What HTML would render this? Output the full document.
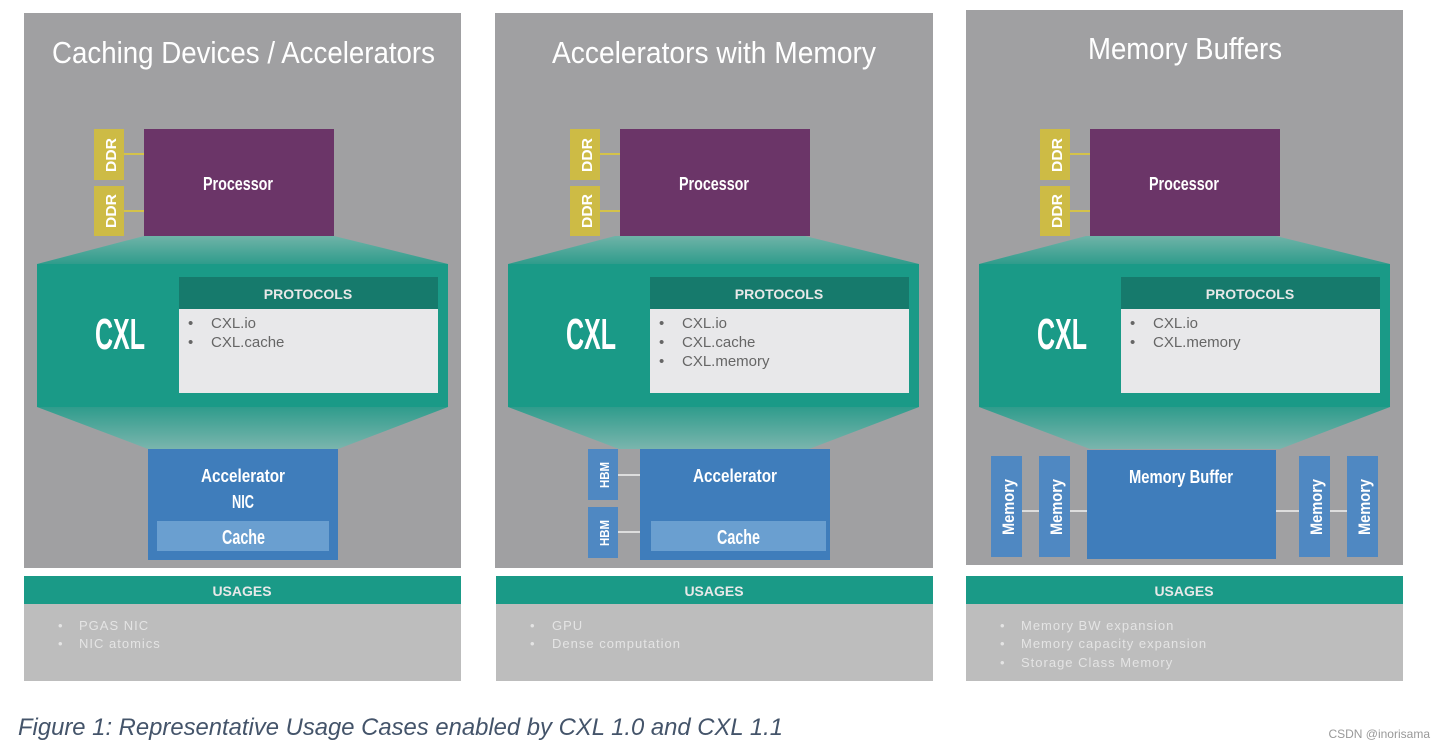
<!DOCTYPE html>
<html><head><meta charset="utf-8"><style>
html,body{margin:0;padding:0;background:#fff;width:1444px;height:750px;overflow:hidden}
svg{display:block}
.t{font-family:"Liberation Sans",sans-serif;fill:#fff}
.s{font-family:"Liberation Sans",sans-serif}
</style></head><body>
<svg width="1444" height="750" viewBox="0 0 1444 750" xmlns="http://www.w3.org/2000/svg">
<defs>
<linearGradient id="fu" x1="0" y1="0" x2="0" y2="1"><stop offset="0" stop-color="#6fb3a8"/><stop offset="1" stop-color="#2f9c8c"/></linearGradient>
<linearGradient id="fd" x1="0" y1="0" x2="0" y2="1"><stop offset="0" stop-color="#2f9c8c"/><stop offset="1" stop-color="#7ab5ad"/></linearGradient>
<g id="core">
  <polygon points="144,236 334,236 448,264 37,264" fill="url(#fu)"/>
  <rect x="37" y="264" width="411" height="143" fill="#1a9a87"/>
  <polygon points="37,407 448,407 338,449 148,449" fill="url(#fd)"/>
  <text class="t" x="95" y="349" font-size="44" font-weight="bold" textLength="50" lengthAdjust="spacingAndGlyphs">CXL</text>
  <rect x="179" y="277" width="259" height="32" fill="#167a6c"/>
  <text class="s" x="308" y="299" font-size="14" font-weight="bold" fill="#e8e8e8" text-anchor="middle">PROTOCOLS</text>
  <rect x="179" y="309" width="259" height="84" fill="#e8e8ea"/>
</g>
<g id="proc">
  <rect x="144" y="129" width="190" height="107" fill="#6b3568"/>
  <text class="t" x="203" y="190" font-size="18" font-weight="bold" textLength="70" lengthAdjust="spacingAndGlyphs">Processor</text>
</g>
<g id="ddr">
  <line x1="124" y1="154" x2="144" y2="154" stroke="#d4c24a" stroke-width="2"/>
  <line x1="124" y1="211" x2="144" y2="211" stroke="#d4c24a" stroke-width="2"/>
  <rect x="94" y="129" width="30" height="51" fill="#cdbb45"/>
  <rect x="94" y="186" width="30" height="50" fill="#cdbb45"/>
  <text class="t" transform="translate(116,155) rotate(-90)" font-size="15" font-weight="bold" text-anchor="middle" textLength="34" lengthAdjust="spacingAndGlyphs">DDR</text>
  <text class="t" transform="translate(116,211) rotate(-90)" font-size="15" font-weight="bold" text-anchor="middle" textLength="34" lengthAdjust="spacingAndGlyphs">DDR</text>
</g>
<g id="ubar">
  <rect x="24" y="576" width="437" height="28" fill="#1a9a87"/>
  <text class="s" x="242" y="596" font-size="14" font-weight="bold" fill="#e8e8e8" text-anchor="middle">USAGES</text>
  <rect x="24" y="604" width="437" height="77" fill="#bdbdbd"/>
</g>
</defs>

<!-- Panel 1 -->
<rect x="24" y="13" width="437" height="555" fill="#a0a0a2"/>
<text class="t" x="52" y="63" font-size="31" textLength="383" lengthAdjust="spacingAndGlyphs">Caching Devices / Accelerators</text>
<use href="#core"/><use href="#proc"/><use href="#ddr"/>
<text class="s" x="188" y="328" font-size="15" fill="#666">•</text><text class="s" x="211" y="328" font-size="15" fill="#666">CXL.io</text>
<text class="s" x="188" y="347" font-size="15" fill="#666">•</text><text class="s" x="211" y="347" font-size="15" fill="#666">CXL.cache</text>
<rect x="148" y="449" width="190" height="111" fill="#3f7dbb"/>
<text class="t" x="201" y="482" font-size="18" font-weight="bold" textLength="84" lengthAdjust="spacingAndGlyphs">Accelerator</text>
<text class="t" x="232" y="508" font-size="18" font-weight="bold" textLength="22" lengthAdjust="spacingAndGlyphs">NIC</text>
<rect x="157" y="521" width="172" height="30" fill="#6a9fd0"/>
<text class="t" x="222" y="544" font-size="20" font-weight="bold" textLength="43" lengthAdjust="spacingAndGlyphs">Cache</text>
<use href="#ubar"/>
<text class="s" x="58" y="630" font-size="13" fill="#e4e4e4">•</text><text class="s" x="79" y="630" font-size="13" fill="#e4e4e4" letter-spacing="1">PGAS NIC</text>
<text class="s" x="58" y="648" font-size="13" fill="#e4e4e4">•</text><text class="s" x="79" y="648" font-size="13" fill="#e4e4e4" letter-spacing="1">NIC atomics</text>

<!-- Panel 2 -->
<rect x="495" y="13" width="438" height="555" fill="#a0a0a2"/>
<text class="t" x="552" y="63" font-size="31" textLength="324" lengthAdjust="spacingAndGlyphs">Accelerators with Memory</text>
<g transform="translate(471,0)"><use href="#core"/></g>
<g transform="translate(476,0)"><use href="#proc"/><use href="#ddr"/></g>
<text class="s" x="659" y="328" font-size="15" fill="#666">•</text><text class="s" x="682" y="328" font-size="15" fill="#666">CXL.io</text>
<text class="s" x="659" y="347" font-size="15" fill="#666">•</text><text class="s" x="682" y="347" font-size="15" fill="#666">CXL.cache</text>
<text class="s" x="659" y="366" font-size="15" fill="#666">•</text><text class="s" x="682" y="366" font-size="15" fill="#666">CXL.memory</text>
<line x1="618" y1="475" x2="640" y2="475" stroke="#ddd" stroke-width="2"/>
<line x1="618" y1="532" x2="640" y2="532" stroke="#ddd" stroke-width="2"/>
<rect x="588" y="449" width="30" height="51" fill="#4f88c2"/>
<rect x="588" y="507" width="30" height="51" fill="#4f88c2"/>
<text class="t" transform="translate(609,475) rotate(-90)" font-size="13" font-weight="bold" text-anchor="middle" textLength="26" lengthAdjust="spacingAndGlyphs">HBM</text>
<text class="t" transform="translate(609,533) rotate(-90)" font-size="13" font-weight="bold" text-anchor="middle" textLength="26" lengthAdjust="spacingAndGlyphs">HBM</text>
<rect x="640" y="449" width="190" height="111" fill="#3f7dbb"/>
<text class="t" x="693" y="482" font-size="18" font-weight="bold" textLength="84" lengthAdjust="spacingAndGlyphs">Accelerator</text>
<rect x="651" y="521" width="175" height="30" fill="#6a9fd0"/>
<text class="t" x="717" y="544" font-size="20" font-weight="bold" textLength="43" lengthAdjust="spacingAndGlyphs">Cache</text>
<g transform="translate(472,0)"><use href="#ubar"/></g>
<text class="s" x="530" y="630" font-size="13" fill="#e4e4e4">•</text><text class="s" x="552" y="630" font-size="13" fill="#e4e4e4" letter-spacing="1">GPU</text>
<text class="s" x="530" y="648" font-size="13" fill="#e4e4e4">•</text><text class="s" x="552" y="648" font-size="13" fill="#e4e4e4" letter-spacing="1">Dense computation</text>

<!-- Panel 3 -->
<rect x="966" y="10" width="437" height="555" fill="#a0a0a2"/>
<text class="t" x="1088" y="59" font-size="31" textLength="194" lengthAdjust="spacingAndGlyphs">Memory Buffers</text>
<g transform="translate(942,0)"><use href="#core"/></g>
<g transform="translate(946,0)"><use href="#proc"/><use href="#ddr"/></g>
<text class="s" x="1130" y="328" font-size="15" fill="#666">•</text><text class="s" x="1153" y="328" font-size="15" fill="#666">CXL.io</text>
<text class="s" x="1130" y="347" font-size="15" fill="#666">•</text><text class="s" x="1153" y="347" font-size="15" fill="#666">CXL.memory</text>
<line x1="1022" y1="511" x2="1087" y2="511" stroke="#ddd" stroke-width="2"/>
<line x1="1276" y1="511" x2="1347" y2="511" stroke="#ddd" stroke-width="2"/>
<rect x="991" y="456" width="31" height="101" fill="#4f88c2"/>
<rect x="1039" y="456" width="31" height="101" fill="#4f88c2"/>
<rect x="1299" y="456" width="31" height="101" fill="#4f88c2"/>
<rect x="1347" y="456" width="31" height="101" fill="#4f88c2"/>
<text class="t" transform="translate(1014,507) rotate(-90)" font-size="17" font-weight="bold" text-anchor="middle" textLength="56" lengthAdjust="spacingAndGlyphs">Memory</text>
<text class="t" transform="translate(1062,507) rotate(-90)" font-size="17" font-weight="bold" text-anchor="middle" textLength="56" lengthAdjust="spacingAndGlyphs">Memory</text>
<text class="t" transform="translate(1322,507) rotate(-90)" font-size="17" font-weight="bold" text-anchor="middle" textLength="56" lengthAdjust="spacingAndGlyphs">Memory</text>
<text class="t" transform="translate(1370,507) rotate(-90)" font-size="17" font-weight="bold" text-anchor="middle" textLength="56" lengthAdjust="spacingAndGlyphs">Memory</text>
<rect x="1087" y="450" width="189" height="109" fill="#3f7dbb"/>
<text class="t" x="1129" y="483" font-size="18" font-weight="bold" textLength="104" lengthAdjust="spacingAndGlyphs">Memory Buffer</text>
<g transform="translate(942,0)"><use href="#ubar"/></g>
<text class="s" x="1000" y="630" font-size="13" fill="#e4e4e4">•</text><text class="s" x="1021" y="630" font-size="13" fill="#e4e4e4" letter-spacing="1">Memory BW expansion</text>
<text class="s" x="1000" y="648" font-size="13" fill="#e4e4e4">•</text><text class="s" x="1021" y="648" font-size="13" fill="#e4e4e4" letter-spacing="1">Memory capacity expansion</text>
<text class="s" x="1000" y="667" font-size="13" fill="#e4e4e4">•</text><text class="s" x="1021" y="667" font-size="13" fill="#e4e4e4" letter-spacing="1">Storage Class Memory</text>

<text class="s" x="18" y="735" font-size="24" font-style="italic" fill="#44546a" textLength="765" lengthAdjust="spacingAndGlyphs">Figure 1: Representative Usage Cases enabled by CXL 1.0 and CXL 1.1</text>
<text class="s" x="1430" y="738" font-size="12" fill="#999" text-anchor="end">CSDN @inorisama</text>
</svg>
</body></html>
